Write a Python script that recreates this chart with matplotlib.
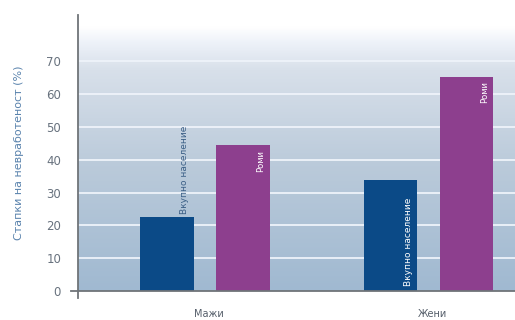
import numpy as np
from matplotlib import pyplot as plt
from matplotlib.colors import LinearSegmentedColormap

# Data
groups = ['Мажи', 'Жени']
total_pop = [22.5, 33.7]
roma = [44.4, 65.3]
total_label = 'Вкупно население'
roma_label = 'Роми'
y_ticks = [0, 10, 20, 30, 40, 50, 60, 70]


def main():
    fig = plt.figure(figsize=(5.15, 3.2), dpi=100)
    ax = fig.add_axes([0.151, 0.09, 0.849, 0.863])

    x = np.arange(len(groups))
    width = 0.24
    off = 0.17

    ax.set_xlim(-0.568, 1.387)
    ax.set_ylim(0, 84)

    # background gradient (white at top, steel blue at bottom)
    cmap = LinearSegmentedColormap.from_list(
        'bg', [(0.0, '#a0b9d1'), (0.45, '#bacada'), (0.8, '#d8e0ea'),
               (0.9, '#eef2f9'), (0.955, '#ffffff'), (1.0, '#ffffff')])
    grad = np.linspace(0, 1, 256).reshape(-1, 1)
    ax.imshow(grad, cmap=cmap, aspect='auto', origin='lower',
              extent=[-0.568, 1.387, 0, 84], zorder=0)

    # grid
    for t in y_ticks[1:]:
        ax.axhline(t, color='#eef3fa', lw=1.3, zorder=1)

    ax.bar(x - off, total_pop, width, color='#0b4a87', zorder=2)
    ax.bar(x + off, roma, width, color='#8d3f8e', zorder=2)

    # bar annotations
    for i, v in enumerate(total_pop):
        if v < 30:
            ax.text(x[i] - off + width / 2 - 0.02, v + 1, total_label,
                    rotation=90, ha='right', va='bottom', fontsize=6.5,
                    color='#3b5f86', zorder=3)
        else:
            ax.text(x[i] - off + width / 2 - 0.02, 1.5, total_label,
                    rotation=90, ha='right', va='bottom', fontsize=6.5,
                    color='white', zorder=3)
    for i, v in enumerate(roma):
        ax.text(x[i] + off + width / 2 - 0.02, v - 1.5, roma_label,
                rotation=90, ha='right', va='top', fontsize=6,
                color='white', zorder=3)

    ax.set_xticks(x + 0.02)
    ax.set_xticklabels(groups, fontsize=7, color='#555e6a')
    ax.tick_params(axis='x', length=0, pad=13)
    ax.set_yticks(y_ticks)
    ax.set_yticklabels([str(t) for t in y_ticks], fontsize=8.5, color='#68727e')
    ax.tick_params(axis='y', length=0, pad=12)

    ax.set_ylabel('Стапки на невработеност (%)', fontsize=8, color='#5a83ad',
                  labelpad=16)

    for s in ['top', 'right']:
        ax.spines[s].set_visible(False)
    ax.spines['left'].set_color('#6f7478')
    ax.spines['left'].set_linewidth(1.3)
    ax.spines['left'].set_bounds(-2, 84)
    ax.spines['bottom'].set_color('#6f7478')
    ax.spines['bottom'].set_linewidth(1.3)
    ax.spines['bottom'].set_bounds(-0.6, 1.387)
    ax.spines['left'].set_zorder(4)
    ax.spines['bottom'].set_zorder(4)

    fig.savefig('out.png', dpi=100)


if __name__ == '__main__':
    main()
